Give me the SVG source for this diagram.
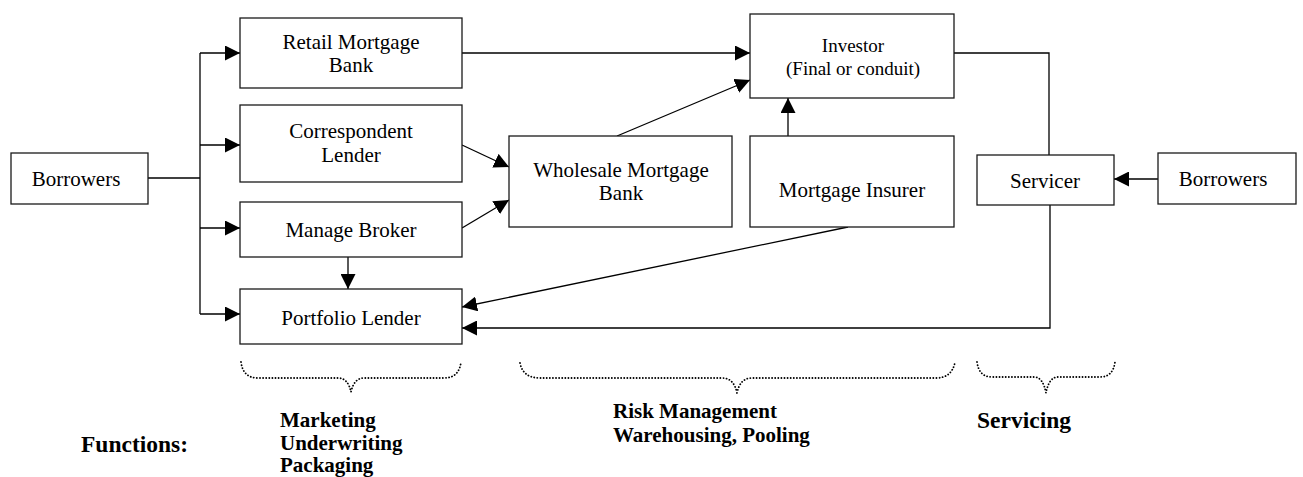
<svg xmlns="http://www.w3.org/2000/svg" width="1303" height="477" viewBox="0 0 1303 477">
  <style>
    .box { fill: #fff; stroke: #1a1a1a; stroke-width: 1.3; }
    .lbl { font-family: "Liberation Serif", "Times New Roman", serif; font-size: 21px; fill: #000; text-anchor: middle; }
    .small { font-size: 19px; }
    .edge { fill: none; stroke: #000; stroke-width: 1.3; }
    .brace { fill: none; stroke: #000; stroke-width: 1.8; stroke-dasharray: 0.1 3; stroke-linecap: round; }
    .fn { font-family: "Liberation Serif", "Times New Roman", serif; font-weight: bold; font-size: 21px; fill: #000; }
    .fn-big { font-size: 23.5px; }
  </style>
  <defs>
    <marker id="arrow" markerUnits="userSpaceOnUse" markerWidth="15" markerHeight="15" refX="15" refY="7.5" orient="auto">
      <path d="M0,0 L15,7.5 L0,15 z" fill="#000"/>
    </marker>
  </defs>

  <rect width="1303" height="477" fill="#fff"/>

  <!-- connectors -->
  <g id="connectors">
    <line class="edge" x1="148" y1="178" x2="200" y2="178"/>
    <line class="edge" x1="200" y1="53" x2="200" y2="314"/>
    <line class="edge" x1="200" y1="53" x2="240" y2="53" marker-end="url(#arrow)"/>
    <line class="edge" x1="200" y1="145" x2="240" y2="145" marker-end="url(#arrow)"/>
    <line class="edge" x1="200" y1="228" x2="240" y2="228" marker-end="url(#arrow)"/>
    <line class="edge" x1="200" y1="314" x2="240" y2="314" marker-end="url(#arrow)"/>
    <line class="edge" x1="462" y1="53" x2="750" y2="53" marker-end="url(#arrow)"/>
    <line class="edge" x1="462" y1="145" x2="509" y2="167" marker-end="url(#arrow)"/>
    <line class="edge" x1="462" y1="228" x2="509" y2="200" marker-end="url(#arrow)"/>
    <line class="edge" x1="617" y1="136" x2="750" y2="80" marker-end="url(#arrow)"/>
    <line class="edge" x1="788" y1="136" x2="788" y2="98" marker-end="url(#arrow)"/>
    <line class="edge" x1="348" y1="257" x2="348" y2="289" marker-end="url(#arrow)"/>
    <line class="edge" x1="848" y1="227" x2="462" y2="307" marker-end="url(#arrow)"/>
    <polyline class="edge" points="954,53 1049,53 1049,155"/>
    <polyline class="edge" points="1050,205 1050,328 462,328" marker-end="url(#arrow)"/>
    <line class="edge" x1="1158" y1="179" x2="1114" y2="179" marker-end="url(#arrow)"/>
  </g>

  <!-- nodes -->
  <g id="borrowers-left">
    <rect class="box" x="11" y="153" width="137" height="51"/>
    <text class="lbl" x="76" y="186">Borrowers</text>
  </g>
  <g id="retail-mortgage-bank">
    <rect class="box" x="240" y="18" width="222" height="70"/>
    <text class="lbl" x="351" y="49">Retail Mortgage</text>
    <text class="lbl" x="351" y="72">Bank</text>
  </g>
  <g id="correspondent-lender">
    <rect class="box" x="240" y="105" width="222" height="77"/>
    <text class="lbl" x="351" y="138">Correspondent</text>
    <text class="lbl" x="351" y="162">Lender</text>
  </g>
  <g id="manage-broker">
    <rect class="box" x="240" y="202" width="222" height="55"/>
    <text class="lbl" x="351" y="237">Manage Broker</text>
  </g>
  <g id="portfolio-lender">
    <rect class="box" x="240" y="289" width="222" height="55"/>
    <text class="lbl" x="351" y="325">Portfolio Lender</text>
  </g>
  <g id="wholesale-mortgage-bank">
    <rect class="box" x="509" y="136" width="223" height="91"/>
    <text class="lbl" x="621" y="177">Wholesale Mortgage</text>
    <text class="lbl" x="621" y="200">Bank</text>
  </g>
  <g id="investor">
    <rect class="box" x="750" y="14" width="204" height="84"/>
    <text class="lbl small" x="853" y="52">Investor</text>
    <text class="lbl small" x="853" y="75">(Final or conduit)</text>
  </g>
  <g id="mortgage-insurer">
    <rect class="box" x="750" y="136" width="204" height="91"/>
    <text class="lbl" x="852" y="197">Mortgage Insurer</text>
  </g>
  <g id="servicer">
    <rect class="box" x="977" y="155" width="137" height="50"/>
    <text class="lbl" x="1045" y="188">Servicer</text>
  </g>
  <g id="borrowers-right">
    <rect class="box" x="1158" y="153" width="138" height="51"/>
    <text class="lbl" x="1223" y="186">Borrowers</text>
  </g>

  <!-- function braces -->
  <g id="braces">
    <path class="brace" d="M241,362 Q243,378 258,378 L338,378 Q348,378 351,392 Q354,378 364,378 L444,378 Q459,378 461,362"/>
    <path class="brace" d="M520,363 Q523,378 540,378 L722,378 Q734,378 737,393 Q740,378 752,378 L936,378 Q952,378 955,362"/>
    <path class="brace" d="M977,362 Q979,377 992,377 L1034,377 Q1043,377 1046,393 Q1049,377 1058,377 L1100,377 Q1113,377 1115,362"/>
  </g>

  <!-- function labels -->
  <g id="functions">
    <text class="fn fn-big" x="81" y="452">Functions:</text>
    <text class="fn" x="280" y="427">Marketing</text>
    <text class="fn" x="280" y="450">Underwriting</text>
    <text class="fn" x="280" y="472">Packaging</text>
    <text class="fn" x="613" y="418">Risk Management</text>
    <text class="fn" x="613" y="442">Warehousing, Pooling</text>
    <text class="fn fn-big" x="977" y="428">Servicing</text>
  </g>
</svg>
